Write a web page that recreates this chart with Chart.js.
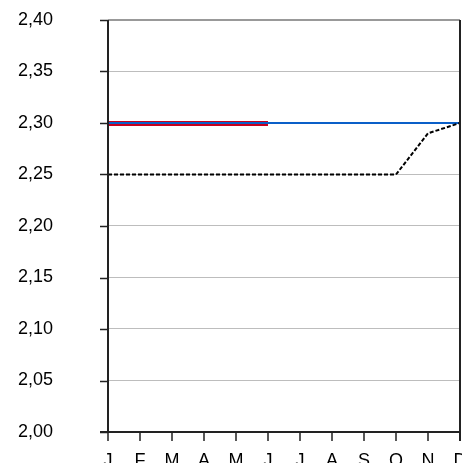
<!DOCTYPE html>
<html>
<head>
<meta charset="utf-8">
<script src="https://cdn.jsdelivr.net/npm/chart.js@4"></script>
<style>
  html, body { margin: 0; padding: 0; overflow: hidden; background: #fff; }
  #wrap { width: 462px; height: 463px; overflow: hidden; }
  canvas { display: block; }
</style>
</head>
<body>
<div id="wrap"><canvas id="c" width="462" height="482"></canvas></div>
<script>
// Month initials along the x axis
const months = ['J', 'F', 'M', 'A', 'M', 'J', 'J', 'A', 'S', 'O', 'N', 'D'];

// Series values
const redSeries   = [2.2995, 2.2995, 2.2995, 2.2995, 2.2995, 2.2995, null, null, null, null, null, null];
const blueSeries  = [2.30, 2.30, 2.30, 2.30, 2.30, 2.30, 2.30, 2.30, 2.30, 2.30, 2.30, 2.30];
const blackSeries = [2.25, 2.25, 2.25, 2.25, 2.25, 2.25, 2.25, 2.25, 2.25, 2.25, 2.29, 2.30];

// Value axis range and step
const yMin = 2.00, yMax = 2.40, yStep = 0.05;

const fmt = v => v.toFixed(2).replace('.', ',');

// Draws the dark axis lines, outer tick marks and right-hand frame edge
const axisFrame = {
  id: 'axisFrame',
  afterDraw(chart) {
    const { ctx, chartArea: a, scales: { x, y } } = chart;
    ctx.save();
    ctx.strokeStyle = '#222';
    ctx.lineWidth = 2;
    ctx.beginPath();
    ctx.moveTo(a.left, a.top); ctx.lineTo(a.left, a.bottom);
    ctx.moveTo(a.right, a.top); ctx.lineTo(a.right, a.bottom + 9);
    ctx.moveTo(a.left - 8, a.bottom); ctx.lineTo(a.right, a.bottom);
    ctx.stroke();
    ctx.lineWidth = 1.5;
    ctx.beginPath();
    y.ticks.forEach(t => {
      const py = Math.round(y.getPixelForValue(t.value)) + 0.5;
      ctx.moveTo(a.left - 8, py); ctx.lineTo(a.left, py);
    });
    x.ticks.forEach((t, i) => {
      const px = Math.round(x.getPixelForValue(i));
      ctx.moveTo(px, a.bottom); ctx.lineTo(px, a.bottom + 9);
    });
    ctx.stroke();
    ctx.restore();
  }
};

// Keep the axes from reserving extra room for overhanging labels
const noOverhang = scale => {
  scale.paddingTop = 0; scale.paddingBottom = 0;
  scale.paddingLeft = 0; scale.paddingRight = 0;
};

new Chart(document.getElementById('c'), {
  type: 'line',
  data: {
    labels: months,
    datasets: [
      {
        data: blackSeries,
        borderColor: '#000',
        borderWidth: 2,
        borderDash: [4, 2],
        pointRadius: 0,
        tension: 0,
        order: 1
      },
      {
        data: redSeries,
        borderColor: '#c8001e',
        borderWidth: 5,
        pointRadius: 0,
        tension: 0,
        order: 3
      },
      {
        data: blueSeries,
        borderColor: '#0a5fc8',
        borderWidth: 2,
        pointRadius: 0,
        tension: 0,
        order: 2
      }
    ]
  },
  plugins: [axisFrame],
  options: {
    responsive: false,
    animation: false,
    layout: { padding: { top: 20, right: 2, left: 0, bottom: 0 } },
    plugins: { legend: { display: false }, tooltip: { enabled: false } },
    scales: {
      x: {
        type: 'category',
        offset: false,
        grid: { display: false },
        border: { display: false },
        ticks: {
          color: '#000',
          font: { family: 'Liberation Sans', size: 18 },
          padding: 10,
          maxRotation: 0,
          autoSkip: false
        },
        afterFit(scale) { scale.height = 50; noOverhang(scale); }
      },
      y: {
        min: yMin,
        max: yMax,
        grid: {
          color: ctx => ctx.tick && ctx.tick.value === yMax ? '#999' : '#bdbdbd',
          lineWidth: ctx => ctx.tick && ctx.tick.value === yMax ? 2 : 1,
          drawTicks: false
        },
        border: { display: false },
        ticks: {
          stepSize: yStep,
          color: '#000',
          font: { family: 'Liberation Sans', size: 18 },
          padding: 55,
          callback: v => fmt(v)
        },
        afterFit(scale) { scale.width = 108; noOverhang(scale); }
      }
    }
  }
});
</script>
</body>
</html>
